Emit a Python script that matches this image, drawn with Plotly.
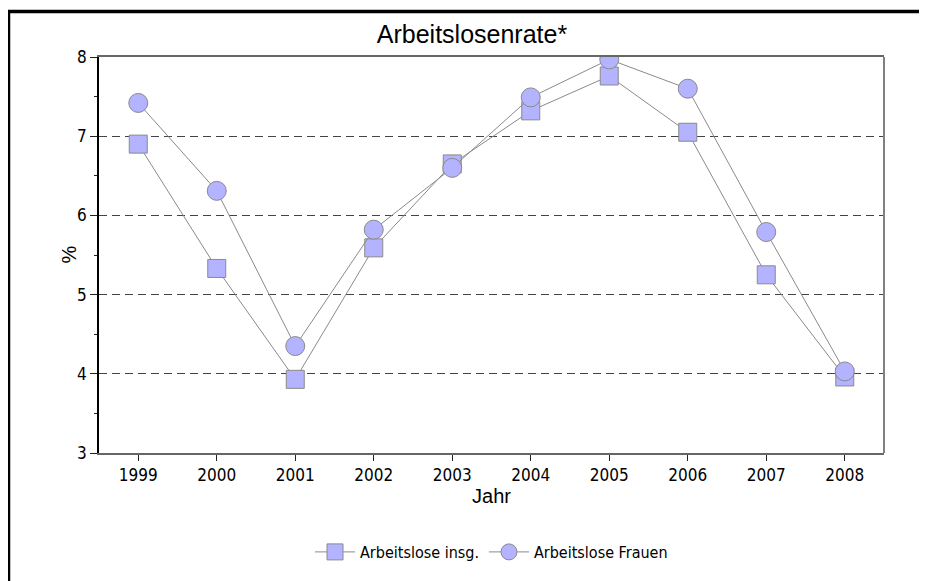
import plotly.graph_objects as go

years = [1999, 2000, 2001, 2002, 2003, 2004, 2005, 2006, 2007, 2008]
insg = [6.90, 5.33, 3.93, 5.59, 6.65, 7.32, 7.76, 7.05, 5.25, 3.96]
frauen = [7.42, 6.31, 4.35, 5.82, 6.60, 7.49, 7.97, 7.60, 5.79, 4.03]
series_names = ["Arbeitslose insg.", "Arbeitslose Frauen"]
title_text = "Arbeitslosenrate*"
x_title = "Jahr"
y_title = "%"

# the page body has an 8px margin, so the figure starts at (8, 8) in the window
OFF = 8
W, H = 927 - OFF, 581 - OFF
L, T = 99 - OFF, 57 - OFF
pw, ph = 785, 396
R, B = W - L - pw, H - T - ph

def px_x(p):  # page pixel -> paper x
    return (p - OFF - L) / pw

def px_y(p):  # page pixel -> paper y
    return (T + ph - (p - OFF)) / ph

narrow = "DejaVu Sans Condensed, Liberation Sans Narrow, sans-serif"
arial = "Liberation Sans, Arial, sans-serif"
fill = "#b3b3ff"
edge = "#8a8a8a"

fig = go.Figure()
fig.add_trace(go.Scatter(
    x=years, y=insg, name=series_names[0], mode="lines+markers",
    line=dict(color=edge, width=1),
    marker=dict(symbol="square", size=18, color=fill, line=dict(color=edge, width=1)),
))
fig.add_trace(go.Scatter(
    x=years, y=frauen, name=series_names[1], mode="lines+markers",
    line=dict(color=edge, width=1),
    marker=dict(symbol="circle", size=19, color=fill, line=dict(color=edge, width=1)),
))

fig.update_layout(
    width=W, height=H,
    margin=dict(l=L, r=R, t=T, b=B, autoexpand=False),
    paper_bgcolor="white", plot_bgcolor="white",
    title=dict(text=title_text, x=(472 - OFF) / W, xref="container", xanchor="center",
               y=1 - (34 - OFF) / H, yref="container", yanchor="middle",
               font=dict(family=arial, size=25, color="black")),
    showlegend=True,
    legend=dict(orientation="h", x=0.5, xanchor="center", y=px_y(552), yanchor="middle",
                font=dict(family=narrow, size=16, color="black"), itemwidth=40,
                bgcolor="rgba(0,0,0,0)"),
    xaxis=dict(
        range=[1998.5, 2008.5], tickmode="array", tickvals=years,
        ticktext=[str(y) for y in years],
        tickfont=dict(family=narrow, size=17, color="black"),
        ticks="outside", ticklen=6, tickcolor="#222", tickwidth=1,
        showline=True, linecolor="#666", linewidth=2, mirror=True,
        showgrid=False, zeroline=False,
        title=dict(text=x_title, font=dict(family=arial, size=20, color="black"), standoff=4),
    ),
    yaxis=dict(
        range=[3, 8], tickmode="linear", tick0=3, dtick=1,
        tickfont=dict(family=narrow, size=17, color="black"),
        ticks="outside", ticklen=7, tickcolor="#222", tickwidth=1,
        minor=dict(dtick=0.5, ticks="outside", ticklen=3, tickcolor="#222", showgrid=False),
        showline=True, linecolor="black", linewidth=1.5,
        showgrid=True, gridcolor="#444", griddash="8px,5px", gridwidth=1,
        zeroline=False,
    ),
    annotations=[
        dict(text=y_title, xref="paper", yref="paper", x=px_x(68.5), y=0.5,
             xanchor="center", yanchor="middle", textangle=-90, showarrow=False,
             font=dict(family=arial, size=20, color="black")),
    ],
    shapes=[
        dict(type="line", xref="paper", yref="paper", x0=1, x1=1, y0=0, y1=1,
             line=dict(color="#808080", width=2)),
        dict(type="rect", xref="paper", yref="paper",
             x0=px_x(8.5), x1=px_x(960), y0=px_y(620), y1=px_y(11.5),
             line=dict(color="black", width=3.5), fillcolor="rgba(0,0,0,0)", layer="above"),
    ],
)

fig.write_html("out.html")
